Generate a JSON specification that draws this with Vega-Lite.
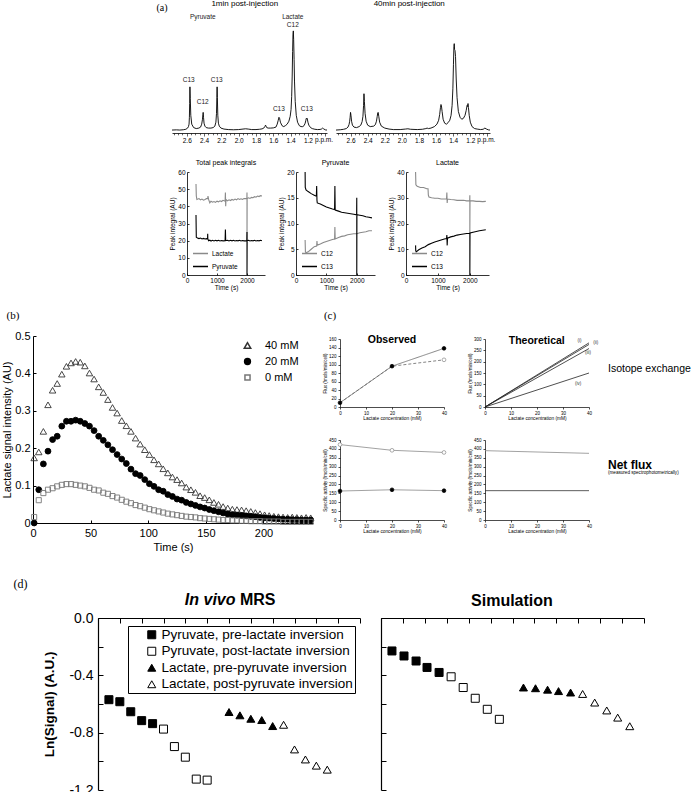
{
"$schema":"https://vega.github.io/schema/vega-lite/v6.json",
"background":"white",
"padding":0,
"spacing":0,
"bounds":"full",
"resolve":{"scale":{"color":"independent","shape":"independent","fill":"independent","stroke":"independent","size":"independent","strokeDash":"independent"},"legend":{"color":"independent","shape":"independent","fill":"independent","stroke":"independent","size":"independent","strokeDash":"independent"}},
"datasets":{
"specL":[{"ppm":[2.77,2.72,2.68,2.64,2.61,2.59,2.58,2.573,2.569,2.566,2.563,2.559,2.553,2.542,2.52,2.49,2.46,2.44,2.427,2.418,2.413,2.41,2.406,2.4,2.39,2.375,2.35,2.32,2.295,2.275,2.263,2.256,2.252,2.249,2.246,2.241,2.234,2.224,2.205,2.17,2.12,2.06,2.0,1.95,1.92,1.89,1.85,1.8,1.76,1.73,1.71,1.698,1.69,1.684,1.676,1.66,1.63,1.6,1.57,1.555,1.543,1.535,1.528,1.518,1.5,1.48,1.46,1.44,1.42,1.405,1.395,1.388,1.382,1.377,1.373,1.369,1.365,1.36,1.355,1.347,1.335,1.32,1.3,1.28,1.26,1.245,1.232,1.224,1.219,1.214,1.209,1.2,1.19,1.17,1.15,1.12,1.09,1.06,1.04,1.03,1.02,1.0,0.98],
"v":[3,3.2,3,3.3,3.8,5,6.5,9,16,30,47,35,18,9,5.5,4.5,5,6,9,14,19,21,16,10,7,5.5,5,5,5.5,7,11,20,36,47,36,18,10,7,5,4,3.5,3.3,3.5,4,4.3,4,3.5,3.5,3.8,4.2,5,6.5,8,7,5.5,5,5,5.2,6,9,13,16,15,11,7.5,6.5,7.5,9,12,17,24,37,58,83,100,104,95,75,52,32,18,11,7.5,6.5,6.5,7.5,10,13,15,14.5,15,11,8,5.5,4.5,3.8,3.5,3.6,4.2,5,4.3,3.2,3]}],
"specR":[{"ppm":[2.77,2.72,2.68,2.65,2.63,2.618,2.61,2.605,2.6,2.595,2.588,2.578,2.56,2.53,2.5,2.48,2.465,2.455,2.448,2.443,2.438,2.43,2.418,2.4,2.37,2.33,2.31,2.297,2.288,2.282,2.277,2.27,2.26,2.24,2.2,2.15,2.1,2.02,1.96,1.93,1.9,1.82,1.76,1.72,1.705,1.69,1.66,1.62,1.59,1.57,1.558,1.549,1.543,1.538,1.53,1.518,1.5,1.48,1.46,1.44,1.425,1.413,1.404,1.397,1.392,1.388,1.384,1.379,1.373,1.365,1.355,1.34,1.32,1.3,1.28,1.262,1.248,1.238,1.232,1.227,1.222,1.213,1.2,1.18,1.15,1.12,1.08,1.05,1.03,1.01,0.99,0.97],
"v":[3,3.3,3.8,4.5,6,8.5,12,16,21,18,12,8,6,5.5,6.5,8,11.5,17,28,40,32,20,12,8,6.5,7,8.5,12,17,20.5,21,17,11,7,5,4,3.5,3.5,4,4.3,3.8,3.5,3.8,4.5,5,4.5,5,6.5,9,13,19,26,29,28,22,14,10,9,10.5,13,18,28,45,70,88,91,85,84,78,55,36,22,16,14,15,18,23,28,27,30,26,18,11,6.5,4.5,4,3.5,3.8,5,4,3.2,3]}],
"p1":[{"s":"Lactate","t":[300,310,330,400,450,500,550,600,650,690,700,720,760,800,850,900,950,1000,1050,1100,1150,1200,1270,1280,1290,1300,1350,1400,1450,1500,1550,1600,1650,1700,1750,1800,1850,1900,1995,2000,2000,2005,2050,2100,2150,2200,2250,2300,2350,2400,2450,2500],
"v":[53,46,44,44.5,43.8,44.2,43.6,44,44.5,44.5,46,44,42,43,42.4,42.8,42.3,43,42.6,43.2,42.8,43.5,43,48,40,44,43.2,43.8,43.4,44,43.6,44.2,43.8,44.5,44,44.4,44,44.6,44.5,48,20,44.5,45,44.6,45.2,45,45.6,45.3,46,45.7,46.2,46]},
{"s":"Pyruvate","t":[300,310,350,400,450,500,550,600,650,685,690,695,720,760,800,850,900,950,1000,1050,1100,1150,1200,1270,1280,1290,1350,1400,1450,1500,1550,1600,1650,1700,1750,1800,1850,1900,1995,2000,2000,2005,2050,2100,2150,2200,2250,2300,2350,2400,2450,2500],
"v":[35,22,21.5,21.2,21.5,21,21.3,21,21.2,21,24,21,20,20.3,19.8,20.2,19.8,20.2,19.9,20.2,19.8,20.1,19.9,20,26.5,20,20.2,19.8,20.2,19.9,20.2,19.8,20.1,19.9,20.2,19.8,20.1,19.9,20,25,0,20,20.2,19.8,20.1,19.9,20.2,19.8,20.1,19.9,20.2,20]}],
"p2":[{"s":"C12","t":[300,310,330,400,500,600,680,690,700,800,900,1000,1100,1200,1270,1280,1290,1400,1500,1600,1700,1800,1900,2000,2100,2200,2300,2400,2500],
"v":[6.8,4.5,4.3,4.5,5,5.5,5.6,6.6,5.8,6,6.3,6.5,6.7,6.9,7,9.3,7,7.3,7.5,7.6,7.8,7.9,8,8,8.2,8.3,8.4,8.6,8.6]},
{"s":"C13","t":[300,305,330,400,500,600,670,680,690,700,800,900,1000,1100,1200,1270,1280,1290,1400,1500,1600,1700,1800,1900,1995,2000,2000,2005,2100,2200,2300,2400,2500],
"v":[20,17,16.5,16.2,15.8,15.5,15.3,17.3,14.5,14,13.8,13.5,13.2,13,12.8,12.7,17.3,12.6,12.4,12.2,12.1,12,11.9,11.8,11.7,15,0,11.7,11.6,11.5,11.3,11.2,11.1]}],
"p3":[{"s":"C12","t":[300,310,350,450,550,650,690,700,720,800,900,1000,1100,1200,1270,1280,1290,1300,1400,1500,1600,1700,1800,1900,1995,2000,2000,2005,2100,2200,2300,2400,2500],
"v":[40,35,34.5,34,34,33.5,33.5,31,30.3,30,29.8,29.8,29.5,29.5,29.5,32,28,29.5,29.3,29.2,29,29,29,28.8,28.8,31,16,28.8,28.8,28.6,28.6,28.5,28.6]},
{"s":"C13","t":[300,305,320,400,500,600,700,800,900,1000,1100,1200,1270,1280,1290,1300,1400,1500,1600,1700,1800,1900,1995,2000,2000,2005,2100,2200,2300,2400,2500],
"v":[11.5,9.5,9,9.8,10.5,11,11.8,12.3,12.8,13.2,13.6,14,14.2,15.5,11.5,14.3,14.8,15.1,15.5,15.7,15.9,16.1,16.2,16.2,0,16.3,16.6,16.9,17.2,17.4,17.6]}],
"bdat":[{"s":"40 mM","t":[1,5,9,13,17,21,25,29,33,37,41,45,49,53,57,61,65,69,73,77,81,85,89,93,97,101,105,109,113,117,121,125,129,133,137,141,145,149,153,157,161,165,169,173,177,181,185,189,193,197,201,205,209,213,217,221,225,229,233,237,241],
"v":[0.174,0.19,0.245,0.316,0.355,0.373,0.398,0.419,0.428,0.432,0.43,0.42,0.401,0.385,0.364,0.349,0.33,0.309,0.294,0.274,0.26,0.245,0.227,0.211,0.196,0.183,0.169,0.158,0.145,0.134,0.123,0.116,0.107,0.096,0.089,0.082,0.073,0.068,0.062,0.055,0.05,0.044,0.04,0.037,0.036,0.035,0.033,0.031,0.028,0.025,0.022,0.02,0.018,0.017,0.016,0.015,0.016,0.015,0.014,0.015,0.014]},
{"s":"20 mM","t":[1,5,9,13,17,21,25,29,33,37,41,45,49,53,57,61,65,69,73,77,81,85,89,93,97,101,105,109,113,117,121,125,129,133,137,141,145,149,153,157,161,165,169,173,177,181,185,189,193,197,201,205,209,213,217,221,225,229,233,237,241],
"v":[0,0.089,0.158,0.192,0.223,0.232,0.259,0.272,0.272,0.275,0.272,0.266,0.259,0.247,0.232,0.221,0.209,0.196,0.183,0.171,0.159,0.144,0.132,0.127,0.116,0.105,0.098,0.089,0.085,0.076,0.071,0.064,0.061,0.055,0.051,0.047,0.043,0.04,0.036,0.033,0.03,0.027,0.024,0.022,0.021,0.02,0.019,0.018,0.017,0.015,0.014,0.013,0.012,0.011,0.01,0.01,0.009,0.009,0.008,0.008,0.008]},
{"s":"0 mM","t":[1,5,9,13,17,21,25,29,33,37,41,45,49,53,57,61,65,69,73,77,81,85,89,93,97,101,105,109,113,117,121,125,129,133,137,141,145,149,153,157,161,165,169,173,177,181,185,189,193,197,201,205,209,213,217,221,225,229,233,237,241],
"v":[0.016,0.061,0.08,0.089,0.093,0.098,0.102,0.104,0.104,0.102,0.1,0.098,0.094,0.089,0.087,0.081,0.078,0.072,0.068,0.062,0.057,0.053,0.048,0.045,0.041,0.037,0.034,0.031,0.028,0.025,0.023,0.021,0.019,0.017,0.016,0.015,0.013,0.012,0.011,0.01,0.009,0.008,0.008,0.007,0.007,0.006,0.006,0.005,0.005,0.005,0.004,0.004,0.004,0.004,0.003,0.003,0.003,0.003,0.003,0.003,0.003]}],
"obs":[{"c":0,"f":10,"s":"A"},{"c":20,"f":96,"s":"A"},{"c":40,"f":138,"s":"A"},{"c":0,"f":10,"s":"B"},{"c":20,"f":96,"s":"B"},{"c":40,"f":111,"s":"B"}],
"theo":[{"c":0,"f":0,"s":"i"},{"c":40,"f":283,"s":"i"},{"c":0,"f":0,"s":"ii"},{"c":40,"f":276,"s":"ii"},{"c":0,"f":0,"s":"iii"},{"c":40,"f":258,"s":"iii"},{"c":0,"f":0,"s":"iv"},{"c":40,"f":150,"s":"iv"}],
"theolab":[{"c":36.3,"f":292,"t":"(i)"},{"c":42.6,"f":282,"t":"(ii)"},{"c":39.6,"f":238,"t":"(iii)"},{"c":35.8,"f":100,"t":"(iv)"}],
"obsb":[{"c":0,"f":424,"s":"B"},{"c":20,"f":392,"s":"B"},{"c":40,"f":380,"s":"B"},{"c":0,"f":163,"s":"A"},{"c":20,"f":170,"s":"A"},{"c":40,"f":165,"s":"A"}],
"theob":[{"c":0,"f":390,"s":"g"},{"c":40,"f":375,"s":"g"},{"c":0,"f":165,"s":"k"},{"c":40,"f":165,"s":"k"}],
"dl":[{"s":"Pyruvate, pre-lactate inversion","x":[1,2,3,4,5],"y":[-0.57,-0.584,-0.654,-0.716,-0.737]},
{"s":"Pyruvate, post-lactate inversion","x":[6,7,8,9,10],"y":[-0.775,-0.897,-0.971,-1.124,-1.131]},
{"s":"Lactate, pre-pyruvate inversion","x":[12,13,14,15,16],"y":[-0.656,-0.679,-0.703,-0.712,-0.754]},
{"s":"Lactate, post-pyruvate inversion","x":[17,18,19,20,21],"y":[-0.745,-0.917,-0.987,-1.03,-1.058]}],
"dr":[{"s":"Pyruvate, pre-lactate inversion","x":[1,2.1,3.2,4.2,5.3],"y":[-0.23,-0.265,-0.3,-0.345,-0.38]},
{"s":"Pyruvate, post-lactate inversion","x":[6.4,7.5,8.6,9.7,10.8],"y":[-0.41,-0.485,-0.56,-0.637,-0.707]},
{"s":"Lactate, pre-pyruvate inversion","x":[13,14.1,15.2,16.2,17.3],"y":[-0.485,-0.49,-0.5,-0.51,-0.52]},
{"s":"Lactate, post-pyruvate inversion","x":[18.4,19.5,20.6,21.6,22.7],"y":[-0.53,-0.59,-0.645,-0.695,-0.755]}]
},
"vconcat":[
{"hconcat":[
 {"width":172,"height":134,"data":{"values":[]},"mark":"point"},
 {"width":155,"height":108,"layer":[
  {"data":{"name":"specL"},"transform":[{"flatten":["ppm","v"]}],"mark":{"type":"line","color":"black","strokeWidth":0.9},
   "encoding":{"x":{"field":"ppm","type":"quantitative","scale":{"domain":[0.98,2.77],"reverse":true,"nice":false,"zero":false},
    "axis":{"values":[1.0,1.05,1.1,1.15,1.2,1.25,1.3,1.35,1.4,1.45,1.5,1.55,1.6,1.65,1.7,1.75,1.8,1.85,1.9,1.95,2.0,2.05,2.1,2.15,2.2,2.25,2.3,2.35,2.4,2.45,2.5,2.55,2.6,2.65,2.7,2.75],"tickCount":100,"title":null,"labelOverlap":false,"labelFlush":false,
    "labelExpr":"abs(datum.value*5-round(datum.value*5))<0.001 && datum.value>1.15 && datum.value<2.65 ? format(datum.value,'.1f') : ''",
    "tickSize":{"condition":{"test":"abs(datum.value*5-round(datum.value*5))<0.001","value":3},"value":1.8},
    "labelFontSize":6.5,"labelPadding":1,"domainWidth":0.8,"tickWidth":0.6}},
   "y":{"field":"v","type":"quantitative","scale":{"domain":[0,110],"nice":false},"axis":null},
   "order":{"value":null}}},
  {"data":{"values":[{"ppm":2.415,"v":118,"t":"Pyruvate"},{"ppm":1.375,"v":118,"t":"Lactate"},{"ppm":1.375,"v":110,"t":"C12"},{"ppm":2.577,"v":54,"t":"C13"},{"ppm":2.415,"v":32,"t":"C12"},{"ppm":2.253,"v":54,"t":"C13"},{"ppm":1.536,"v":24,"t":"C13"},{"ppm":1.213,"v":24,"t":"C13"}]},
   "mark":{"type":"text","fontSize":6.5,"color":"#222"},
   "encoding":{"x":{"field":"ppm","type":"quantitative"},"y":{"field":"v","type":"quantitative"},"text":{"field":"t"}}},
  {"data":{"values":[{"ppm":1.119,"v":-7.3,"t":"p.p.m."}]},"mark":{"type":"text","fontSize":6.5,"align":"left"},
   "encoding":{"x":{"field":"ppm","type":"quantitative"},"y":{"field":"v","type":"quantitative"},"text":{"field":"t"}}},
  {"data":{"values":[{"ppm":1.93,"v":131,"t":"1min post-injection"}]},"mark":{"type":"text","fontSize":8},
   "encoding":{"x":{"field":"ppm","type":"quantitative"},"y":{"field":"v","type":"quantitative"},"text":{"field":"t"}}},
  {"data":{"values":[{"ppm":2.885,"v":127,"t":"(a)"}]},"mark":{"type":"text","fontSize":10,"font":"Liberation Serif"},
   "encoding":{"x":{"field":"ppm","type":"quantitative"},"y":{"field":"v","type":"quantitative"},"text":{"field":"t"}}}
 ]},
 {"width":9,"height":1,"data":{"values":[]},"mark":"point"},
 {"width":154,"height":108,"layer":[
  {"data":{"name":"specR"},"transform":[{"flatten":["ppm","v"]}],"mark":{"type":"line","color":"black","strokeWidth":0.9},
   "encoding":{"x":{"field":"ppm","type":"quantitative","scale":{"domain":[0.97,2.77],"reverse":true,"nice":false,"zero":false},
    "axis":{"values":[1.0,1.05,1.1,1.15,1.2,1.25,1.3,1.35,1.4,1.45,1.5,1.55,1.6,1.65,1.7,1.75,1.8,1.85,1.9,1.95,2.0,2.05,2.1,2.15,2.2,2.25,2.3,2.35,2.4,2.45,2.5,2.55,2.6,2.65,2.7,2.75],"tickCount":100,"title":null,"labelOverlap":false,"labelFlush":false,
    "labelExpr":"abs(datum.value*5-round(datum.value*5))<0.001 && datum.value>1.15 && datum.value<2.65 ? format(datum.value,'.1f') : ''",
    "tickSize":{"condition":{"test":"abs(datum.value*5-round(datum.value*5))<0.001","value":3},"value":1.8},
    "labelFontSize":6.5,"labelPadding":1,"domainWidth":0.8,"tickWidth":0.6}},
   "y":{"field":"v","type":"quantitative","scale":{"domain":[0,110],"nice":false},"axis":null},
   "order":{"value":null}}},
  {"data":{"values":[{"ppm":1.118,"v":-7.3,"t":"p.p.m."}]},"mark":{"type":"text","fontSize":6.5,"align":"left"},
   "encoding":{"x":{"field":"ppm","type":"quantitative"},"y":{"field":"v","type":"quantitative"},"text":{"field":"t"}}},
  {"data":{"values":[{"ppm":1.914,"v":131,"t":"40min post-injection"}]},"mark":{"type":"text","fontSize":8},
   "encoding":{"x":{"field":"ppm","type":"quantitative"},"y":{"field":"v","type":"quantitative"},"text":{"field":"t"}}}
 ]}
],"spacing":0,"bounds":"flush","resolve":{"scale":{"color":"independent"},"legend":{"color":"independent"}}},

{"hconcat":[
 {"width":187,"height":138,"data":{"values":[]},"mark":"point"},
 {"width":78,"height":103,"title":{"text":"Total peak integrals","fontSize":7,"fontWeight":"normal","offset":3,"color":"black"},
  "data":{"name":"p1"},"transform":[{"flatten":["t","v"]}],"mark":{"type":"line","strokeWidth":1.1},
  "encoding":{"x":{"field":"t","type":"quantitative","scale":{"domain":[0,2600],"nice":false},"axis":{"values":[0,1000,2000],"tickCount":100,"format":"d","title":"Time (s)","labelOverlap":false,"labelFontSize":6.5,"titleFontSize":6.5,"tickSize":-2,"labelPadding":4,"titlePadding":1,"domainWidth":0.8,"tickWidth":0.8}},
   "y":{"field":"v","type":"quantitative","scale":{"domain":[0,60],"nice":false},"axis":{"values":[0,10,20,30,40,50,60],"tickCount":100,"format":"d","title":"Peak integral (AU)","labelOverlap":false,"labelFontSize":6.5,"titleFontSize":6.5,"tickSize":-2,"labelPadding":4,"titlePadding":2,"domainWidth":0.8,"tickWidth":0.8}},
   "color":{"field":"s","type":"nominal","scale":{"domain":["Lactate","Pyruvate"],"range":["#8a8a8a","#000000"]},"legend":{"title":null,"orient":"bottom-left","offset":5,"padding":0,"symbolType":"stroke","symbolSize":225,"symbolStrokeWidth":1.5,"labelFontSize":6.5,"rowPadding":1,"labelOffset":3}},
   "order":{"value":null}}},
 {"width":31,"height":1,"data":{"values":[]},"mark":"point"},
 {"width":79,"height":103,"title":{"text":"Pyruvate","fontSize":7,"fontWeight":"normal","offset":3,"color":"black"},
  "data":{"name":"p2"},"transform":[{"flatten":["t","v"]}],"mark":{"type":"line","strokeWidth":1.1},
  "encoding":{"x":{"field":"t","type":"quantitative","scale":{"domain":[0,2600],"nice":false},"axis":{"values":[0,1000,2000],"tickCount":100,"format":"d","title":"Time (s)","labelOverlap":false,"labelFontSize":6.5,"titleFontSize":6.5,"tickSize":-2,"labelPadding":4,"titlePadding":1,"domainWidth":0.8,"tickWidth":0.8}},
   "y":{"field":"v","type":"quantitative","scale":{"domain":[0,20],"nice":false},"axis":{"values":[0,5,10,15,20],"tickCount":100,"format":"d","title":"Peak integral (AU)","labelOverlap":false,"labelFontSize":6.5,"titleFontSize":6.5,"tickSize":-2,"labelPadding":4,"titlePadding":2,"domainWidth":0.8,"tickWidth":0.8}},
   "color":{"field":"s","type":"nominal","scale":{"domain":["C12","C13"],"range":["#8a8a8a","#000000"]},"legend":{"title":null,"orient":"bottom-left","offset":5,"padding":0,"symbolType":"stroke","symbolSize":225,"symbolStrokeWidth":1.5,"labelFontSize":6.5,"rowPadding":1,"labelOffset":3}},
   "order":{"value":null}}},
 {"width":31,"height":1,"data":{"values":[]},"mark":"point"},
 {"width":83,"height":103,"title":{"text":"Lactate","fontSize":7,"fontWeight":"normal","offset":3,"color":"black"},
  "data":{"name":"p3"},"transform":[{"flatten":["t","v"]}],"mark":{"type":"line","strokeWidth":1.1},
  "encoding":{"x":{"field":"t","type":"quantitative","scale":{"domain":[0,2600],"nice":false},"axis":{"values":[0,1000,2000],"tickCount":100,"format":"d","title":"Time (s)","labelOverlap":false,"labelFontSize":6.5,"titleFontSize":6.5,"tickSize":-2,"labelPadding":4,"titlePadding":1,"domainWidth":0.8,"tickWidth":0.8}},
   "y":{"field":"v","type":"quantitative","scale":{"domain":[0,40],"nice":false},"axis":{"values":[0,10,20,30,40],"tickCount":100,"format":"d","title":"Peak integral (AU)","labelOverlap":false,"labelFontSize":6.5,"titleFontSize":6.5,"tickSize":-2,"labelPadding":4,"titlePadding":2,"domainWidth":0.8,"tickWidth":0.8}},
   "color":{"field":"s","type":"nominal","scale":{"domain":["C12","C13"],"range":["#8a8a8a","#000000"]},"legend":{"title":null,"orient":"bottom-left","offset":5,"padding":0,"symbolType":"stroke","symbolSize":225,"symbolStrokeWidth":1.5,"labelFontSize":6.5,"rowPadding":1,"labelOffset":3}},
   "order":{"value":null}}}
],"spacing":0,"bounds":"flush","resolve":{"scale":{"color":"independent"},"legend":{"color":"independent"}}},

{"hconcat":[
 {"width":33,"height":241,"data":{"values":[]},"mark":"point"},
 {"width":280,"height":187,"layer":[
  {"data":{"name":"bdat"},"transform":[{"flatten":["t","v"]}],"mark":{"type":"point","strokeWidth":0.9,"opacity":1},
   "encoding":{"x":{"field":"t","type":"quantitative","scale":{"domain":[0,243],"nice":false},"axis":{"values":[0,50,100,150,200],"tickCount":100,"format":"d","title":"Time (s)","labelOverlap":false,"labelFontSize":11,"titleFontSize":11,"tickSize":-3,"labelPadding":7,"titlePadding":3}},
    "y":{"field":"v","type":"quantitative","scale":{"domain":[0,0.5],"nice":false},"axis":{"values":[0,0.1,0.2,0.3,0.4,0.5],"tickCount":100,"format":".1~f","labelOverlap":false,"title":"Lactate signal intensity (AU)","labelFontSize":11,"titleFontSize":11,"tickSize":-3,"labelPadding":6,"titlePadding":2}},
    "shape":{"field":"s","type":"nominal","scale":{"domain":["40 mM","20 mM","0 mM"],"range":["triangle-up","circle","square"]},"legend":{"title":null,"orient":"none","legendX":209,"legendY":4,"padding":0,"labelFontSize":11,"labelOffset":12,"rowPadding":3}},
    "fill":{"field":"s","type":"nominal","scale":{"domain":["40 mM","20 mM","0 mM"],"range":["transparent","black","transparent"]},"legend":{"title":null,"orient":"none","legendX":209,"legendY":4,"padding":0,"labelFontSize":11,"labelOffset":12,"rowPadding":3}},
    "stroke":{"field":"s","type":"nominal","scale":{"domain":["40 mM","20 mM","0 mM"],"range":["#333333","black","#777777"]},"legend":{"title":null,"orient":"none","legendX":209,"legendY":4,"padding":0,"labelFontSize":11,"labelOffset":12,"rowPadding":3}},
    "size":{"field":"s","type":"nominal","scale":{"domain":["40 mM","20 mM","0 mM"],"range":[42,26,14]},"legend":{"title":null,"orient":"none","legendX":209,"legendY":4,"padding":0,"labelFontSize":11,"labelOffset":12,"rowPadding":3}}}},
  {"data":{"values":[{"t":-17.4,"v":0.553,"l":"(b)"}]},"mark":{"type":"text","fontSize":11,"font":"Liberation Serif"},
   "encoding":{"x":{"field":"t","type":"quantitative"},"y":{"field":"v","type":"quantitative"},"text":{"field":"l"}}}
 ]},
 {"width":27,"height":1,"data":{"values":[]},"mark":"point"},
 {"concat":[
  {"width":1,"height":3,"data":{"values":[]},"mark":"point"},
  {"width":1,"height":1,"data":{"values":[]},"mark":"point"},
  {"width":1,"height":1,"data":{"values":[]},"mark":"point"},
  {"width":104,"height":68,"layer":[
   {"data":{"name":"obs"},"mark":{"type":"line","color":"#666","strokeWidth":0.8},
    "encoding":{"x":{"field":"c","type":"quantitative","scale":{"domain":[0,40],"nice":false},"axis":{"values":[0,10,20,30,40],"tickCount":100,"format":"d","title":"Lactate concentration (mM)","labelOverlap":false,"labelFontSize":4.5,"titleFontSize":4.8,"tickSize":2,"labelPadding":1,"titlePadding":1,"domainWidth":0.7,"tickWidth":0.7}},
     "y":{"field":"f","type":"quantitative","scale":{"domain":[0,160],"nice":false},"axis":{"values":[0,20,40,60,80,100,120,140,160],"tickCount":100,"format":"d","title":"Flux (fmols/min/cell)","labelOverlap":false,"labelFontSize":4.5,"titleFontSize":4.5,"tickSize":2,"labelPadding":2,"titlePadding":1,"domainWidth":0.7,"tickWidth":0.7}},
     "strokeDash":{"field":"s","type":"nominal","scale":{"domain":["A","B"],"range":[[1,0],[3,2]]},"legend":null}}},
   {"data":{"name":"obs"},"transform":[{"filter":"datum.s=='A' || datum.c==40"}],"mark":{"type":"point","size":14,"strokeWidth":0.7,"opacity":1},
    "encoding":{"x":{"field":"c","type":"quantitative"},"y":{"field":"f","type":"quantitative"},
     "fill":{"field":"s","type":"nominal","scale":{"domain":["A","B"],"range":["black","white"]},"legend":null},
     "stroke":{"field":"s","type":"nominal","scale":{"domain":["A","B"],"range":["black","#888888"]},"legend":null}}},
   {"data":{"values":[{"c":20,"f":158,"t":"Observed"}]},"mark":{"type":"text","fontSize":10.5,"fontWeight":"bold"},
    "encoding":{"x":{"field":"c","type":"quantitative"},"y":{"field":"f","type":"quantitative"},"text":{"field":"t"}}},
   {"data":{"values":[{"c":-3.85,"f":214,"t":"(c)"}]},"mark":{"type":"text","fontSize":11,"font":"Liberation Serif"},
    "encoding":{"x":{"field":"c","type":"quantitative"},"y":{"field":"f","type":"quantitative"},"text":{"field":"t"}}}
  ]},
  {"width":41,"height":1,"data":{"values":[]},"mark":"point"},
  {"width":104,"height":68,"layer":[
   {"data":{"name":"theo"},"mark":{"type":"line","color":"#222","strokeWidth":0.8},
    "encoding":{"x":{"field":"c","type":"quantitative","scale":{"domain":[0,40],"nice":false},"axis":{"values":[0,10,20,30,40],"tickCount":100,"format":"d","title":"Lactate concentration (mM)","labelOverlap":false,"labelFontSize":4.5,"titleFontSize":4.8,"tickSize":2,"labelPadding":1,"titlePadding":1,"domainWidth":0.7,"tickWidth":0.7}},
     "y":{"field":"f","type":"quantitative","scale":{"domain":[0,300],"nice":false},"axis":{"values":[0,50,100,150,200,250,300],"tickCount":100,"format":"d","title":"Flux (fmols/min/cell)","labelOverlap":false,"labelFontSize":4.5,"titleFontSize":4.5,"tickSize":2,"labelPadding":2,"titlePadding":1,"domainWidth":0.7,"tickWidth":0.7}},
     "detail":{"field":"s"}}},
   {"data":{"name":"theolab"},"mark":{"type":"text","fontSize":4.5,"color":"#333"},
    "encoding":{"x":{"field":"c","type":"quantitative"},"y":{"field":"f","type":"quantitative"},"text":{"field":"t"}}},
   {"data":{"values":[{"c":19.9,"f":291,"t":"Theoretical"}]},"mark":{"type":"text","fontSize":10.5,"fontWeight":"bold"},
    "encoding":{"x":{"field":"c","type":"quantitative"},"y":{"field":"f","type":"quantitative"},"text":{"field":"t"}}},
   {"data":{"values":[{"c":47.3,"f":168,"t":"Isotope exchange"}]},"mark":{"type":"text","fontSize":10.5,"align":"left"},
    "encoding":{"x":{"field":"c","type":"quantitative"},"y":{"field":"f","type":"quantitative"},"text":{"field":"t"}}}
  ]},
  {"width":1,"height":33,"data":{"values":[]},"mark":"point"},
  {"width":1,"height":1,"data":{"values":[]},"mark":"point"},
  {"width":1,"height":1,"data":{"values":[]},"mark":"point"},
  {"width":104,"height":80,"layer":[
   {"data":{"name":"obsb"},"mark":{"type":"line","color":"#8a8a8a","strokeWidth":0.8},
    "encoding":{"x":{"field":"c","type":"quantitative","scale":{"domain":[0,40],"nice":false},"axis":{"values":[0,10,20,30,40],"tickCount":100,"format":"d","title":"Lactate concentration (mM)","labelOverlap":false,"labelFontSize":4.5,"titleFontSize":4.8,"tickSize":2,"labelPadding":1,"titlePadding":1,"domainWidth":0.7,"tickWidth":0.7}},
     "y":{"field":"f","type":"quantitative","scale":{"domain":[0,450],"nice":false},"axis":{"values":[0,50,100,150,200,250,300,350,400,450],"tickCount":100,"format":"d","title":"Specific activity (fmols/min/cell)","labelOverlap":false,"labelFontSize":4.5,"titleFontSize":4.5,"tickSize":2,"labelPadding":2,"titlePadding":1,"domainWidth":0.7,"tickWidth":0.7}},
     "detail":{"field":"s"}}},
   {"data":{"name":"obsb"},"mark":{"type":"point","size":14,"strokeWidth":0.7,"opacity":1},
    "encoding":{"x":{"field":"c","type":"quantitative"},"y":{"field":"f","type":"quantitative"},
     "fill":{"field":"s","type":"nominal","scale":{"domain":["A","B"],"range":["black","white"]},"legend":null},
     "stroke":{"field":"s","type":"nominal","scale":{"domain":["A","B"],"range":["black","#888888"]},"legend":null}}}
  ]},
  {"width":41,"height":1,"data":{"values":[]},"mark":"point"},
  {"width":104,"height":80,"layer":[
   {"data":{"name":"theob"},"mark":{"type":"line","strokeWidth":0.8},
    "encoding":{"x":{"field":"c","type":"quantitative","scale":{"domain":[0,40],"nice":false},"axis":{"values":[0,10,20,30,40],"tickCount":100,"format":"d","title":"Lactate concentration (mM)","labelOverlap":false,"labelFontSize":4.5,"titleFontSize":4.8,"tickSize":2,"labelPadding":1,"titlePadding":1,"domainWidth":0.7,"tickWidth":0.7}},
     "y":{"field":"f","type":"quantitative","scale":{"domain":[0,450],"nice":false},"axis":{"values":[0,50,100,150,200,250,300,350,400,450],"tickCount":100,"format":"d","title":"Specific activity (fmols/min/cell)","labelOverlap":false,"labelFontSize":4.5,"titleFontSize":4.5,"tickSize":2,"labelPadding":2,"titlePadding":1,"domainWidth":0.7,"tickWidth":0.7}},
     "color":{"field":"s","type":"nominal","scale":{"domain":["g","k"],"range":["#8a8a8a","#333333"]},"legend":null}}},
   {"data":{"values":[{"c":47.3,"f":311,"t":"Net flux"}]},"mark":{"type":"text","fontSize":12,"fontWeight":"bold","align":"left"},
    "encoding":{"x":{"field":"c","type":"quantitative"},"y":{"field":"f","type":"quantitative"},"text":{"field":"t"}}},
   {"data":{"values":[{"c":47.3,"f":262,"t":"(measured spectrophotometrically)"}]},"mark":{"type":"text","fontSize":4.6,"align":"left"},
    "encoding":{"x":{"field":"c","type":"quantitative"},"y":{"field":"f","type":"quantitative"},"text":{"field":"t"}}}
  ]}
 ],"columns":3,"spacing":0,"bounds":"flush","resolve":{"scale":{"color":"independent","fill":"independent","stroke":"independent","strokeDash":"independent"},"legend":{"color":"independent","fill":"independent","stroke":"independent","strokeDash":"independent"}}}
],"spacing":0,"bounds":"flush","resolve":{"scale":{"color":"independent","shape":"independent","fill":"independent","stroke":"independent","size":"independent","strokeDash":"independent"},"legend":{"color":"independent","shape":"independent","fill":"independent","stroke":"independent","size":"independent","strokeDash":"independent"}}},

{"hconcat":[
 {"width":98,"height":1,"data":{"values":[]},"mark":"point"},
 {"width":262,"height":172,"layer":[
  {"data":{"name":"dl"},"transform":[{"flatten":["x","y"]}],"mark":{"type":"point","size":64,"strokeWidth":1,"opacity":1},
   "encoding":{"x":{"field":"x","type":"quantitative","scale":{"domain":[0,24],"nice":false,"zero":false},"axis":{"orient":"top","values":[0,2,4,6,8,10,12,14,16,18,20,22,24],"tickCount":100,"labels":false,"title":null,"tickSize":-5,"domainWidth":1.2,"tickWidth":1}},
    "y":{"field":"y","type":"quantitative","scale":{"domain":[-1.2,0],"nice":false,"zero":false},"axis":{"values":[0,-0.2,-0.4,-0.6,-0.8,-1,-1.2],"tickCount":100,"labelOverlap":false,"labelExpr":"abs(datum.value*2.5-round(datum.value*2.5))<0.01 ? replace(format(datum.value,'.1f'),'\u2212','-') : ''","labelFontSize":14,"tickSize":-5,"labelPadding":10,"title":"Ln(Signal) (A.U.)","titleFontSize":13.5,"titleFontWeight":"bold","titlePadding":12,"domainWidth":1.2,"tickWidth":1}},
    "shape":{"field":"s","type":"nominal","scale":{"domain":["Pyruvate, pre-lactate inversion","Pyruvate, post-lactate inversion","Lactate, pre-pyruvate inversion","Lactate, post-pyruvate inversion"],"range":["square","square","triangle-up","triangle-up"]},
     "legend":{"title":null,"orient":"none","legendX":30,"legendY":8,"strokeColor":"black","fillColor":"white","padding":2,"symbolOffset":15,"labelFontSize":13.5,"labelLimit":400,"labelOffset":3,"rowPadding":1.5,"symbolSize":64,"symbolStrokeColor":"black","symbolStrokeWidth":1,"labelExpr":"datum.label + '    '"}},
    "fill":{"field":"s","type":"nominal","scale":{"domain":["Pyruvate, pre-lactate inversion","Pyruvate, post-lactate inversion","Lactate, pre-pyruvate inversion","Lactate, post-pyruvate inversion"],"range":["black","white","black","white"]},
     "legend":{"title":null,"orient":"none","legendX":30,"legendY":8,"strokeColor":"black","fillColor":"white","padding":2,"symbolOffset":15,"labelFontSize":13.5,"labelLimit":400,"labelOffset":3,"rowPadding":1.5,"symbolSize":64,"symbolStrokeColor":"black","symbolStrokeWidth":1,"labelExpr":"datum.label + '    '"}},
    "stroke":{"field":"s","type":"nominal","scale":{"domain":["Pyruvate, pre-lactate inversion","Pyruvate, post-lactate inversion","Lactate, pre-pyruvate inversion","Lactate, post-pyruvate inversion"],"range":["black","black","black","black"]},
     "legend":{"title":null,"orient":"none","legendX":30,"legendY":8,"strokeColor":"black","fillColor":"white","padding":2,"symbolOffset":15,"labelFontSize":13.5,"labelLimit":400,"labelOffset":3,"rowPadding":1.5,"symbolSize":64,"symbolStrokeColor":"black","symbolStrokeWidth":1,"labelExpr":"datum.label + '    '"}}}},
  {"data":{"values":[{"x":12.6,"y":0.126,"t":"In vivo"}]},"mark":{"type":"text","fontSize":16,"fontWeight":"bold","fontStyle":"italic","align":"right"},
   "encoding":{"x":{"field":"x","type":"quantitative"},"y":{"field":"y","type":"quantitative"},"text":{"field":"t"}}},
  {"data":{"values":[{"x":13.0,"y":0.126,"t":"MRS"}]},"mark":{"type":"text","fontSize":16,"fontWeight":"bold","align":"left"},
   "encoding":{"x":{"field":"x","type":"quantitative"},"y":{"field":"y","type":"quantitative"},"text":{"field":"t"}}},
  {"data":{"values":[{"x":-7.1,"y":0.239,"t":"(d)"}]},"mark":{"type":"text","fontSize":12,"font":"Liberation Serif"},
   "encoding":{"x":{"field":"x","type":"quantitative"},"y":{"field":"y","type":"quantitative"},"text":{"field":"t"}}}
 ]},
 {"width":21,"height":1,"data":{"values":[]},"mark":"point"},
 {"width":263,"height":172,"layer":[
  {"data":{"name":"dr"},"transform":[{"flatten":["x","y"]}],"mark":{"type":"point","size":64,"stroke":"black","strokeWidth":1,"opacity":1},
   "encoding":{"x":{"field":"x","type":"quantitative","scale":{"domain":[0,24],"nice":false,"zero":false},"axis":{"orient":"top","values":[0,2,4,6,8,10,12,14,16,18,20,22,24],"tickCount":100,"labels":false,"title":null,"tickSize":-5,"domainWidth":1.2,"tickWidth":1}},
    "y":{"field":"y","type":"quantitative","scale":{"domain":[-1.2,0],"nice":false,"zero":false},"axis":{"values":[0,-0.2,-0.4,-0.6,-0.8,-1,-1.2],"tickCount":100,"labels":false,"tickSize":-5,"title":null,"domainWidth":1.2,"tickWidth":1}},
    "shape":{"field":"s","type":"nominal","scale":{"domain":["Pyruvate, pre-lactate inversion","Pyruvate, post-lactate inversion","Lactate, pre-pyruvate inversion","Lactate, post-pyruvate inversion"],"range":["square","square","triangle-up","triangle-up"]},"legend":null},
    "fill":{"field":"s","type":"nominal","scale":{"domain":["Pyruvate, pre-lactate inversion","Pyruvate, post-lactate inversion","Lactate, pre-pyruvate inversion","Lactate, post-pyruvate inversion"],"range":["black","white","black","white"]},"legend":null}}},
  {"data":{"values":[{"x":11.95,"y":0.119,"t":"Simulation"}]},"mark":{"type":"text","fontSize":16,"fontWeight":"bold"},
   "encoding":{"x":{"field":"x","type":"quantitative"},"y":{"field":"y","type":"quantitative"},"text":{"field":"t"}}}
 ]}
],"spacing":0,"bounds":"flush","resolve":{"scale":{"shape":"independent","fill":"independent","stroke":"independent"},"legend":{"shape":"independent","fill":"independent","stroke":"independent"}}}
],
"config":{
 "font":"Liberation Sans",
 "view":{"stroke":null},
 "axis":{"grid":false,"domainColor":"black","tickColor":"black","labelColor":"black","titleColor":"black","titleFontWeight":"normal","labelFlush":false,"labelOverlap":false},
 "legend":{"labelColor":"black"},
 "title":{"color":"black"}
}
}
